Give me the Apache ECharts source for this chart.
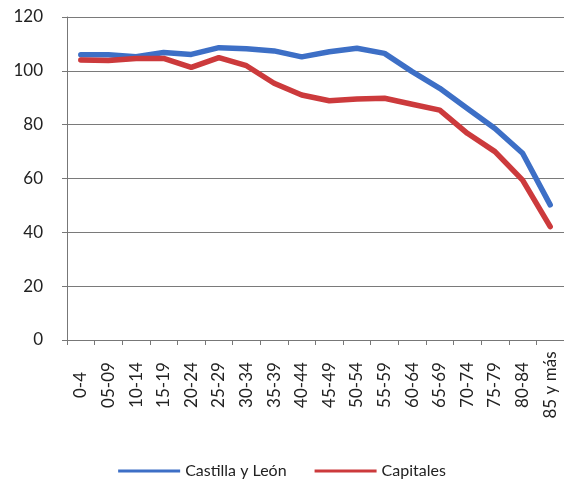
<!DOCTYPE html>
<html><head><meta charset="utf-8">
<script src="https://cdn.jsdelivr.net/npm/echarts@6/dist/echarts.min.js"></script>
<style>html,body{margin:0;padding:0;background:#fff}#c{width:564px;height:500px}</style>
</head><body><div id="c"></div>
<script>
const categories = ['0-4','05-09','10-14','15-19','20-24','25-29','30-34','35-39','40-44','45-49','50-54','55-59','60-64','65-69','70-74','75-79','80-84','85 y más'];
const castillaLeon = [106, 106, 105.2, 106.8, 106.1, 108.6, 108.2, 107.4, 105.2, 107.1, 108.4, 106.5, 99.7, 93.5, 86, 78.6, 69.4, 50.2];
const capitales = [104, 103.8, 104.6, 104.6, 101.3, 104.9, 101.9, 95.4, 91, 88.9, 89.5, 89.8, 87.6, 85.4, 76.8, 70, 59.4, 42.1];
const yTicks = [0, 20, 40, 60, 80, 100, 120];

const chart = echarts.init(document.getElementById('c'));
const font = 'Lato, "Open Sans", sans-serif';
chart.setOption({
  animation: false,
  textStyle: { fontFamily: font },
  grid: { left: 67, width: 504, top: 17, height: 323 },
  legend: {
    bottom: 16, left: 'center', itemGap: 28, itemWidth: 62, itemHeight: 3,
    icon: 'rect',
    textStyle: { fontFamily: font, fontSize: 16, color: '#222' },
    data: ['Castilla y León', 'Capitales']
  },
  xAxis: {
    type: 'category', data: categories, boundaryGap: true,
    axisLine: { lineStyle: { color: '#777', width: 1 } },
    axisTick: { show: true, length: 5, lineStyle: { color: '#777' } },
    axisLabel: { rotate: 90, fontSize: 17, color: '#222', margin: 45, interval: 0, fontFamily: font,
      align: 'center', verticalAlign: 'middle' }
  },
  yAxis: {
    type: 'value', min: yTicks[0], max: yTicks[yTicks.length - 1], interval: 20,
    axisLine: { show: true, lineStyle: { color: '#777', width: 1 } },
    axisTick: { show: true, length: 5, lineStyle: { color: '#777' } },
    axisLabel: { fontSize: 17, color: '#222', margin: 24, fontFamily: font },
    splitLine: { lineStyle: { color: '#7a7a7a', width: 1 } }
  },
  series: [
    { name: 'Castilla y León', type: 'line', data: castillaLeon, symbol: 'none',
      lineStyle: { color: '#3d6fc6', width: 5.5, cap: 'round', join: 'round' }, itemStyle: { color: '#3d6fc6' } },
    { name: 'Capitales', type: 'line', data: capitales, symbol: 'none',
      lineStyle: { color: '#cc3a3c', width: 5.5, cap: 'round', join: 'round' }, itemStyle: { color: '#cc3a3c' } }
  ]
});
</script></body></html>
